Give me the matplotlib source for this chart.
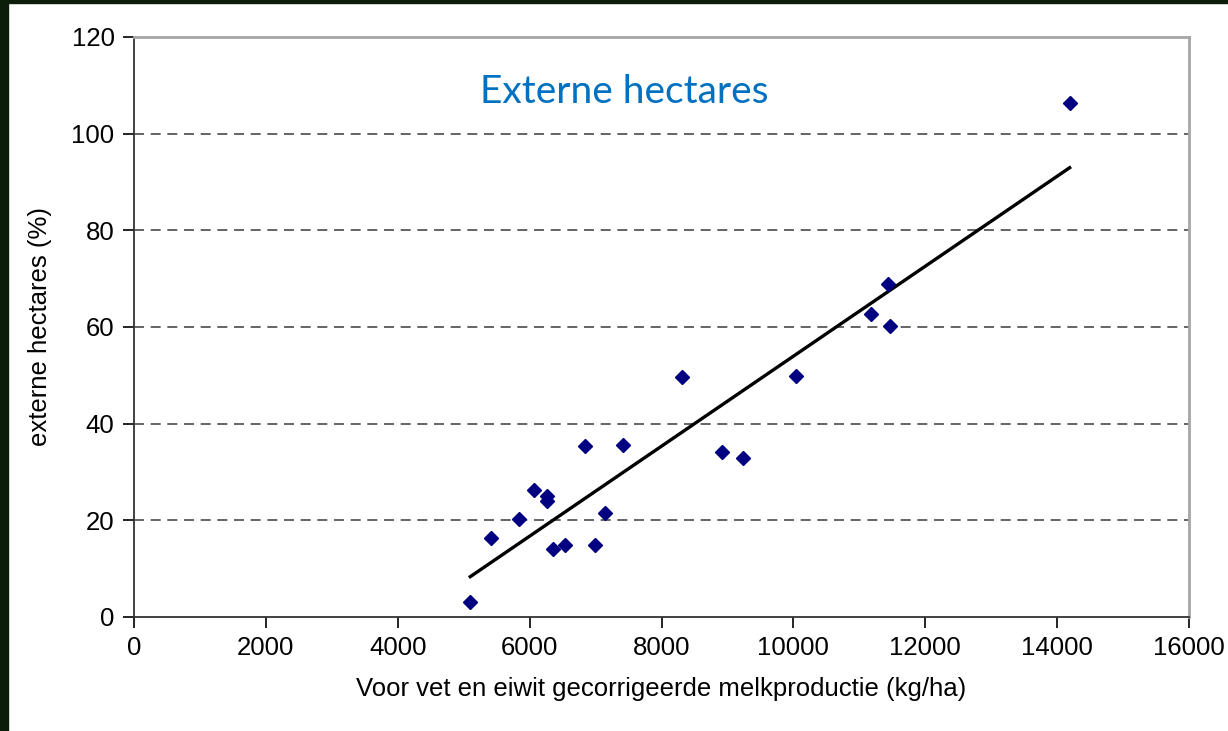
import numpy as np
import matplotlib
matplotlib.use("Agg")
import matplotlib.pyplot as plt
from matplotlib.patches import Rectangle

# melkproductie (kg/ha) vs externe hectares (%)
melk = [5100, 5410, 5840, 6070, 6260, 6260, 6360, 6540, 6840, 6990,
        7140, 7420, 8310, 8920, 9240, 10040, 11170, 11430, 11460, 14190]
ext_ha = [3.1, 16.4, 20.2, 26.3, 25.0, 23.9, 14.0, 14.8, 35.3, 15.0,
          21.6, 35.6, 49.7, 34.2, 32.9, 49.9, 62.6, 69.0, 60.2, 106.3]

x_ticks = [0, 2000, 4000, 6000, 8000, 10000, 12000, 14000, 16000]
y_ticks = [0, 20, 40, 60, 80, 100, 120]

plt.rcParams['font.family'] = ['Liberation Sans', 'DejaVu Sans']

fig = plt.figure(figsize=(12.28, 7.31), dpi=100)
ax = fig.add_axes([134 / 1228, 1 - 617 / 731, 1055 / 1228, 580 / 731])

# dark slide frame on left/top
fig.patches.append(Rectangle((0, 0), 8 / 1228, 1, transform=fig.transFigure,
                             color="#0c1d0a", zorder=10))
fig.patches.append(Rectangle((0, 1 - 3 / 731), 1, 3 / 731, transform=fig.transFigure,
                             color="#0c1d0a", zorder=10))

x = np.array(melk, dtype=float)
y = np.array(ext_ha, dtype=float)

# grid
for g in y_ticks[1:-1]:
    ax.axhline(g, color="#4a4a4a", lw=1.2, ls=(0, (6, 4)), zorder=1)

ax.plot(x, y, ls="none", marker="D", ms=7.2, color="#000080", zorder=3)

# linear trend line
k, b = np.polyfit(x, y, 1)
xl = np.array([x.min(), x.max()])
ax.plot(xl, k * xl + b, color="black", lw=2.4, zorder=2)

ax.set_xlim(0, 16000)
ax.set_ylim(0, 120)
ax.set_xticks(x_ticks)
ax.set_yticks(y_ticks)
ax.tick_params(direction="out", length=8, width=1.2, labelsize=18.5,
               colors="black", pad=6)

for s in ("top", "right"):
    ax.spines[s].set_color("#a6a6a6")
    ax.spines[s].set_linewidth(2)
for s in ("left", "bottom"):
    ax.spines[s].set_color("#333333")
    ax.spines[s].set_linewidth(1.3)

ax.set_xlabel("Voor vet en eiwit gecorrigeerde melkproductie (kg/ha)",
              fontsize=18.5, labelpad=12)
ax.set_ylabel("externe hectares (%)", fontsize=18.5, labelpad=14)

ax.text(0.4645, 0.905, "Externe hectares", transform=ax.transAxes,
        ha="center", va="center", fontsize=28, color="#0070c0",
        family=["Lato", "DejaVu Sans"])

fig.savefig("out.png", dpi=100)
